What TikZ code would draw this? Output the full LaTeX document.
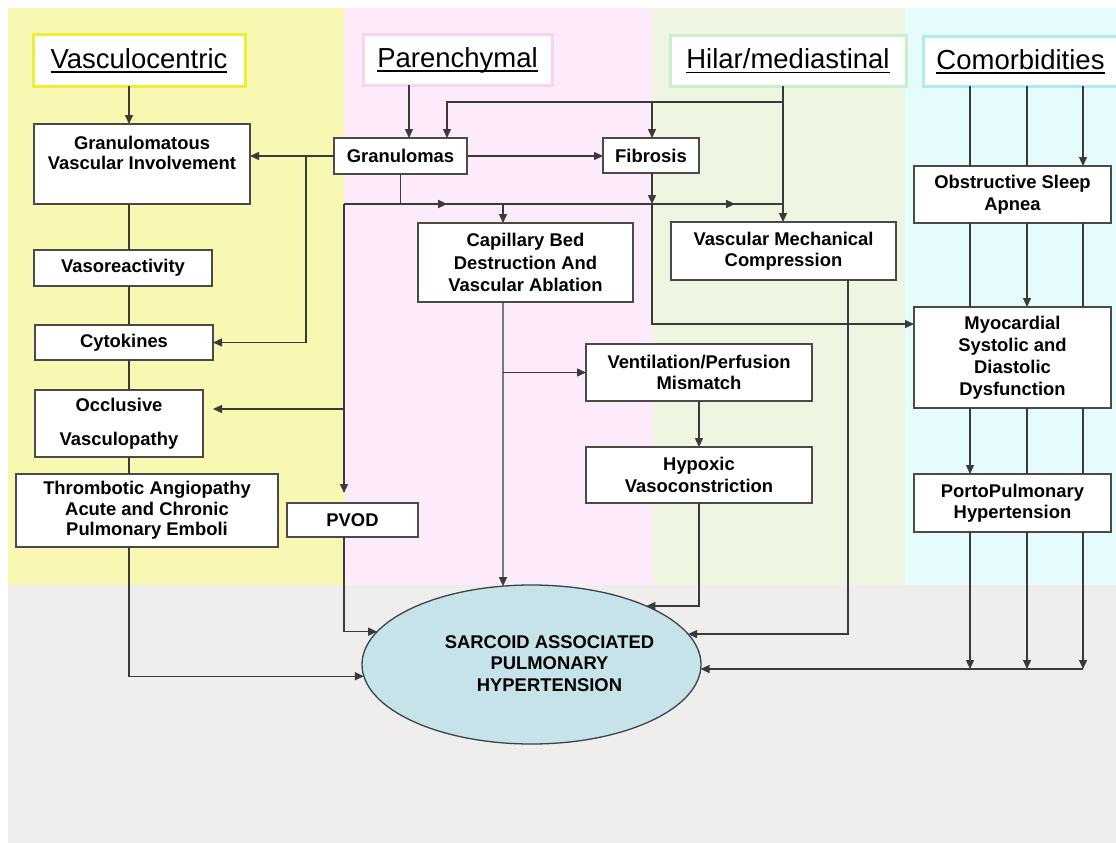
\documentclass[tikz,border=0pt]{standalone}
\usepackage{fontspec}
\setmainfont{Liberation Sans}
\usetikzlibrary{arrows.meta,shapes.geometric,decorations.markings}
\definecolor{bandY}{HTML}{F8F8B2}
\definecolor{bandP}{HTML}{FDEAFB}
\definecolor{bandG}{HTML}{EEF6E2}
\definecolor{bandC}{HTML}{E6FCFC}
\definecolor{bandGr}{HTML}{F0EEEC}
\definecolor{hdY}{HTML}{EEEE38}
\definecolor{hdP}{HTML}{F6D4F2}
\definecolor{hdG}{HTML}{C8F0CC}
\definecolor{hdC}{HTML}{B0EAF2}
\definecolor{boxc}{HTML}{4A4A4A}
\definecolor{linec}{HTML}{3A3A3A}
\definecolor{ellfill}{HTML}{C5E3E8}
\definecolor{ellline}{HTML}{3A4448}
\newcommand\hdrul[1]{\setbox0\hbox{#1}\rlap{\rule[-4.8pt]{\wd0}{1.5pt}}\box0}
\begin{document}
\begin{tikzpicture}[x=1pt,y=-1pt,
  box/.style={draw=boxc, fill=white, line width=1.4pt,
    font=\bfseries\fontsize{18.4}{21.5}\selectfont, align=center,
    inner sep=0pt, outer sep=0pt},
  hdr/.style={fill=white, line width=3pt, font=\fontsize{27.5}{30}\selectfont,
    inner sep=0pt, outer sep=0pt},
  con/.style={color=linec, line width=1.4pt},
  arr/.style={con, -{Triangle[length=9pt,width=8pt]}},
  midarr/.style={con, postaction={decorate}, decoration={markings,
    mark=at position 0.235 with {\arrow{Triangle[length=9pt,width=8pt]}},
    mark=at position 0.891 with {\arrow{Triangle[length=9pt,width=8pt]}}}}
]
% background bands
\fill[white] (0,0) rectangle (1116,843);
\fill[bandY] (8,8) rectangle (344,585);
\fill[bandP] (344,8) rectangle (653,585);
\fill[bandG] (653,8) rectangle (905,585);
\fill[bandC] (905,8) rectangle (1116,585);
\fill[bandGr] (8,585) rectangle (1116,843);
\useasboundingbox (0,0) rectangle (1116,843);

% headers
\node[hdr, draw=hdY, minimum width=212pt, minimum height=51pt] (hv) at (139,60.5) {\hdrul{Vasculocentric}};
\node[hdr, draw=hdP, minimum width=189pt, minimum height=50pt] (hp) at (457.5,60) {\hdrul{Parenchymal}};
\node[hdr, draw=hdG, minimum width=236pt, minimum height=50pt] (hh) at (788,61) {\hdrul{Hilar/mediastinal}};
\node[hdr, draw=hdC, minimum width=195pt, minimum height=49pt] (hc) at (1020.5,61.5) {\hdrul{Comorbidities}};

% boxes
\node[box, minimum width=216pt, minimum height=80pt, text depth=22pt,
  font=\bfseries\fontsize{18.4}{20}\selectfont] (gvi) at (142,164) {Granulomatous\\Vascular Involvement};
\node[box, minimum width=178pt, minimum height=36pt] (vaso) at (123,268) {Vasoreactivity};
\node[box, minimum width=178pt, minimum height=35pt] (cyto) at (124,342.5) {Cytokines};
\node[box, minimum width=168pt, minimum height=67pt] (occl) at (119,423.5) {Occlusive\\[12.5pt]Vasculopathy};
\node[box, minimum width=262pt, minimum height=73pt, font=\bfseries\fontsize{18.4}{20.5}\selectfont] (thromb) at (147,510.5) {Thrombotic Angiopathy\\Acute and Chronic\\Pulmonary Emboli};
\node[box, minimum width=131pt, minimum height=34pt] (pvod) at (352.5,520) {PVOD};
\node[box, minimum width=133pt, minimum height=36pt] (gran) at (400.5,156) {Granulomas};
\node[box, minimum width=96pt, minimum height=35pt] (fib) at (651,155.5) {Fibrosis};
\node[box, minimum width=215pt, minimum height=79pt, font=\bfseries\fontsize{18.4}{22.5}\selectfont] (cap) at (525.5,262.5) {Capillary Bed\\Destruction And\\Vascular Ablation};
\node[box, minimum width=225pt, minimum height=58pt] (vmc) at (783.5,251) {Vascular Mechanical\\Compression};
\node[box, minimum width=197pt, minimum height=57pt] (osa) at (1012.5,194.5) {Obstructive Sleep\\Apnea};
\node[box, minimum width=226pt, minimum height=57pt] (vp) at (699,372.5) {Ventilation/Perfusion\\Mismatch};
\node[box, minimum width=226pt, minimum height=56pt] (hyp) at (699,475) {Hypoxic\\Vasoconstriction};
\node[box, minimum width=197pt, minimum height=101pt, font=\bfseries\fontsize{18.4}{22}\selectfont] (myo) at (1012.5,357.5) {Myocardial\\Systolic and\\Diastolic\\Dysfunction};
\node[box, minimum width=197pt, minimum height=58pt] (ppo) at (1012.5,503) {PortoPulmonary\\Hypertension};

% central ellipse
\node[ellipse, draw=ellline, fill=ellfill, line width=1.3pt, minimum width=339pt,
  minimum height=159pt, inner sep=0pt, outer sep=0pt] (ell) at (531.5,664.5) {};
\node[font=\bfseries\fontsize{18.4}{21.5}\selectfont, align=center, inner sep=0pt] (elltxt) at (549.5,663.5)
  {SARCOID ASSOCIATED\\PULMONARY\\HYPERTENSION};

% helper coordinates
\coordinate (xL) at (129,0);
\coordinate (x306) at (306,0);
\coordinate (x409) at (409,0);
\coordinate (x447) at (447,0);
\coordinate (x503) at (503,0);
\coordinate (x652) at (652,0);
\coordinate (x848) at (848,0);
\coordinate (c1) at (970,0);
\coordinate (c2) at (1027,0);
\coordinate (c3) at (1083,0);
\coordinate (hl) at (344,204);
\coordinate (hr) at (783,204);
\coordinate (hj) at (783,102);
\coordinate (yo) at (0,409);
\coordinate (ym) at (0,324);
\coordinate (bus) at (1083,669);

% left column
\draw[arr] (xL |- hv.south) -- (xL |- gvi.north);
\draw[con] (xL |- gvi.south) -- (xL |- vaso.north);
\draw[con] (xL |- vaso.south) -- (xL |- cyto.north);
\draw[con] (xL |- cyto.south) -- (xL |- occl.north);
\draw[con] (xL |- occl.south) -- (xL |- thromb.north);
\draw[arr] (xL |- thromb.south) |- (ell.184.6);

% granulomas
\draw[arr] (x409 |- hp.south) -- (x409 |- gran.north);
\draw[arr] (gran.west) -- (gran.west -| gvi.east);
\draw[arr] (x306 |- gran.west) |- (cyto.east);
\draw[arr] (gran.east) -- (gran.east -| fib.west);
\draw[con] (gran.south) -- (gran.south |- hl);
\draw[midarr] (hl) -- (hr);
\draw[arr, shorten >=10pt] (hl) -- (hl |- pvod.north);
\draw[arr, shorten >=10pt] (hl |- yo) -- (occl.east |- yo);
\draw[arr] (hl |- pvod.south) |- (ell.168.1);
\draw[arr] (x503 |- hl) -- (x503 |- cap.north);

% hilar
\draw[arr] (hj |- hh.south) -- (hr |- vmc.north);
\draw[arr] (hj) -| (x447 |- gran.north);
\draw[arr] (x652 |- hj) -- (x652 |- fib.north);

% fibrosis
\draw[arr] (x652 |- fib.south) -- (x652 |- hl);
\draw[arr] (x652 |- hl) |- (myo.west |- ym);

% capillary / VQ / hypoxic
\draw[arr] (x503 |- cap.south) -- (ell.110);
\draw[arr] (x503 |- vp.west) -- (vp.west);
\draw[arr] (vp.south) -- (hyp.north);
\draw[arr] (hyp.south) |- (ell.27.9);
\draw[arr] (x848 |- vmc.south) |- (ell.11.9);

% comorbidities
\draw[con] (c1 |- hc.south) -- (c1 |- osa.north);
\draw[con] (c2 |- hc.south) -- (c2 |- osa.north);
\draw[arr] (c3 |- hc.south) -- (c3 |- osa.north);
\draw[con] (c1 |- osa.south) -- (c1 |- myo.north);
\draw[arr] (c2 |- osa.south) -- (c2 |- myo.north);
\draw[con] (c3 |- osa.south) -- (c3 |- myo.north);
\draw[arr] (c1 |- myo.south) -- (c1 |- ppo.north);
\draw[con] (c2 |- myo.south) -- (c2 |- ppo.north);
\draw[con] (c3 |- myo.south) -- (c3 |- ppo.north);
\draw[arr] (c1 |- ppo.south) -- (c1 |- bus);
\draw[arr] (c2 |- ppo.south) -- (c2 |- bus);
\draw[arr] (c3 |- ppo.south) -- (bus);
\draw[arr] (bus) -- (bus -| ell.358.5);
\end{tikzpicture}
\end{document}
